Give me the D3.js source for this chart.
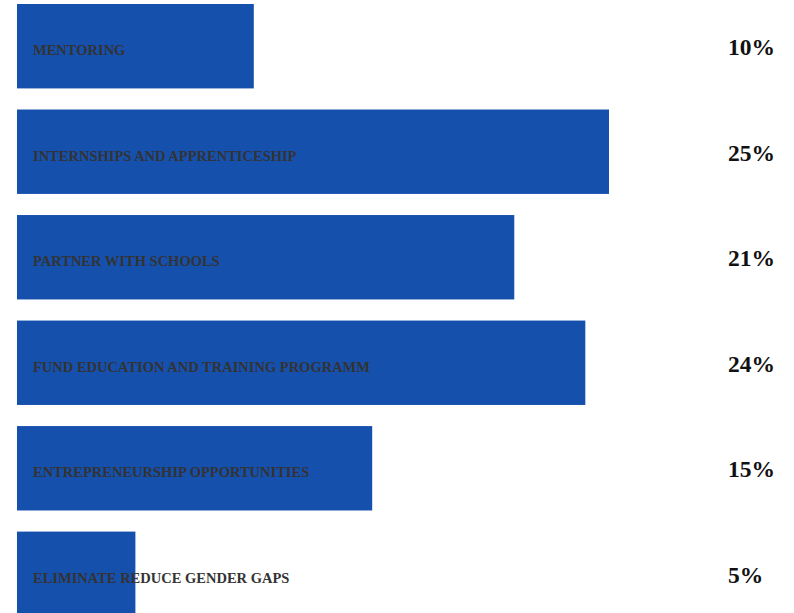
<!DOCTYPE html>
<html>
<head>
<meta charset="utf-8">
<script src="https://cdn.jsdelivr.net/npm/d3@7"></script>
<style>
  html, body { margin: 0; padding: 0; background: #ffffff; }
  svg { display: block; }
</style>
</head>
<body>
<svg id="chart" width="794" height="613"></svg>
<script>
// Share of respondents per initiative
const categories = [
  "MENTORING",
  "INTERNSHIPS AND APPRENTICESHIP",
  "PARTNER WITH SCHOOLS",
  "FUND EDUCATION AND TRAINING PROGRAMM",
  "ENTREPRENEURSHIP OPPORTUNITIES",
  "ELIMINATE REDUCE GENDER GAPS"
];
const values = [10, 25, 21, 24, 15, 5];
const valueLabels = ["10%", "25%", "21%", "24%", "15%", "5%"];

const svg = d3.select("#chart");
const left = 17;

const x = d3.scaleLinear().domain([0, 25]).range([0, 592]);
const y = d3.scaleBand()
  .domain(categories)
  .range([4, 616])
  .paddingInner(0.2)
  .paddingOuter(0);

const rows = svg.selectAll("g.row")
  .data(categories.map((c, i) => ({ c, v: values[i], t: valueLabels[i] })))
  .join("g")
  .attr("class", "row");

rows.append("rect")
  .attr("x", left)
  .attr("y", d => y(d.c))
  .attr("width", d => x(d.v))
  .attr("height", y.bandwidth())
  .attr("fill", "#1650ad");

rows.append("text")
  .attr("x", 33)
  .attr("y", d => y(d.c) + y.bandwidth() / 2 + 9)
  .attr("font-family", "'Liberation Serif', 'Times New Roman', serif")
  .attr("font-weight", "bold")
  .attr("font-size", 14.5)
  .attr("fill", "#333333")
  .text(d => d.c);

rows.append("text")
  .attr("x", 728)
  .attr("y", d => y(d.c) + y.bandwidth() / 2 + 9)
  .attr("font-family", "'Liberation Serif', 'Times New Roman', serif")
  .attr("font-weight", "bold")
  .attr("font-size", 23.5)
  .attr("fill", "#111111")
  .text(d => d.t);
</script>
</body>
</html>
